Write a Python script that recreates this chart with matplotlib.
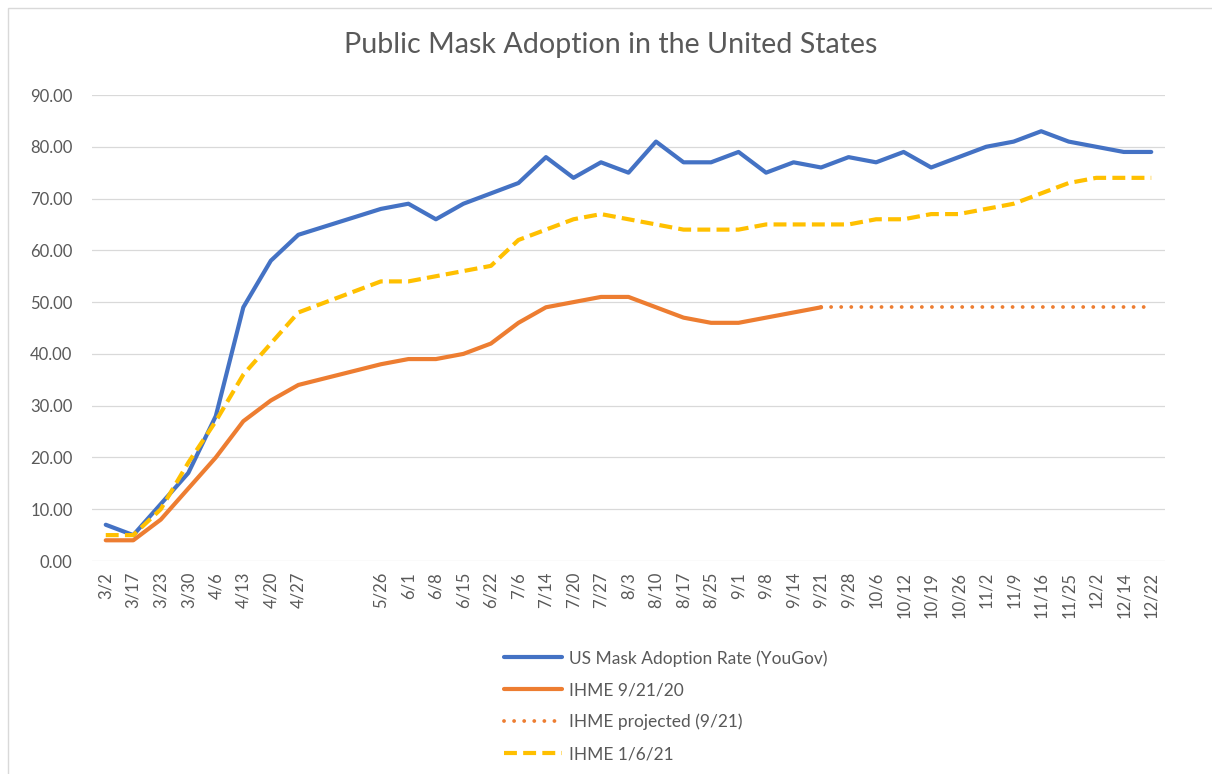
import numpy as np
import matplotlib.pyplot as plt
from matplotlib.patches import Rectangle

# categories (two blank slots between 4/27 and 5/26, as in the source sheet)
fechas = ['3/2', '3/17', '3/23', '3/30', '4/6', '4/13', '4/20', '4/27', '', '',
          '5/26', '6/1', '6/8', '6/15', '6/22', '7/6', '7/14', '7/20', '7/27', '8/3',
          '8/10', '8/17', '8/25', '9/1', '9/8', '9/14', '9/21', '9/28', '10/6', '10/12',
          '10/19', '10/26', '11/2', '11/9', '11/16', '11/25', '12/2', '12/14', '12/22']

n = None
yougov = [7, 5, 11, 17, 28, 49, 58, 63, n, n,
          68, 69, 66, 69, 71, 73, 78, 74, 77, 75,
          81, 77, 77, 79, 75, 77, 76, 78, 77, 79,
          76, 78, 80, 81, 83, 81, 80, 79, 79]

ihme_0921 = [4, 4, 8, 14, 20, 27, 31, 34, n, n,
             38, 39, 39, 40, 42, 46, 49, 50, 51, 51,
             49, 47, 46, 46, 47, 48, 49, n, n, n,
             n, n, n, n, n, n, n, n, n]

ihme_proj = [n, n, n, n, n, n, n, n, n, n,
             n, n, n, n, n, n, n, n, n, n,
             n, n, n, n, n, n, 49, 49, 49, 49,
             49, 49, 49, 49, 49, 49, 49, 49, 49]

ihme_0106 = [5, 5, 10, 19, 27, 36, 42, 48, n, n,
             54, 54, 55, 56, 57, 62, 64, 66, 67, 66,
             65, 64, 64, 64, 65, 65, 65, 65, 66, 66,
             67, 67, 68, 69, 71, 73, 74, 74, 74]

etiquetas = ['US Mask Adoption Rate (YouGov)', 'IHME 9/21/20',
             'IHME projected (9/21)', 'IHME 1/6/21']

plt.rcParams['font.family'] = ['Lato', 'DejaVu Sans']
gris = '#595959'

fig = plt.figure(figsize=(12.12, 7.74), dpi=100)
ax = fig.add_axes([92 / 1212, 1 - 561 / 774, (1165 - 92) / 1212, (561 - 95) / 774])

x = np.arange(len(fechas))


def serie(vals):
    v = np.array([np.nan if a is None else a for a in vals], dtype=float)
    m = ~np.isnan(v)
    return x[m], v[m]


xs, ys = serie(yougov)
ax.plot(xs, ys, color='#4472C4', lw=3, solid_joinstyle='round', solid_capstyle='round',
        label=etiquetas[0])
xs, ys = serie(ihme_0921)
ax.plot(xs, ys, color='#ED7D31', lw=3, solid_joinstyle='round', solid_capstyle='round',
        label=etiquetas[1])
xs, ys = serie(ihme_proj)
ax.plot(xs, ys, color='#ED7D31', lw=2.75, linestyle=(0, (0.01, 2.63)),
        dash_capstyle='round', label=etiquetas[2])
xs, ys = serie(ihme_0106)
ax.plot(xs, ys, color='#FFC000', lw=3, linestyle=(0, (3.1, 1.5)),
        dash_capstyle='butt', label=etiquetas[3])

ax.set_xlim(-0.5, len(fechas) - 0.5)
ax.set_ylim(0, 90)
ax.set_yticks(np.arange(0, 91, 10))
ax.set_yticklabels(['%.2f' % v for v in np.arange(0, 91, 10)])
ax.set_xticks(x)
ax.set_xticklabels(fechas, rotation=90)
ax.tick_params(axis='both', length=0, colors=gris, labelsize=12)
ax.tick_params(axis='y', pad=14)
ax.tick_params(axis='x', pad=8)
ax.grid(axis='y', color='#d9d9d9', lw=0.9)
ax.set_axisbelow(True)
for s in ax.spines.values():
    s.set_visible(False)

fig.text(0.504, 1 - 45 / 774, 'Public Mask Adoption in the United States',
         ha='center', va='center', fontsize=20.6, color=gris)

leg = fig.legend(loc='upper left', bbox_to_anchor=(504 / 1212, 1 - 650 / 774),
                 frameon=False, fontsize=12.5, handlelength=3.35, handletextpad=0.4,
                 labelspacing=0.9, borderaxespad=0, borderpad=0)
for t in leg.get_texts():
    t.set_color(gris)

# thin border of the chart area
fig.add_artist(Rectangle((8 / 1212, -0.1), 1.2, 1.1 - 8 / 774, transform=fig.transFigure,
                         fill=False, edgecolor='#d9d9d9', lw=1))

fig.savefig('out.png', dpi=100)
